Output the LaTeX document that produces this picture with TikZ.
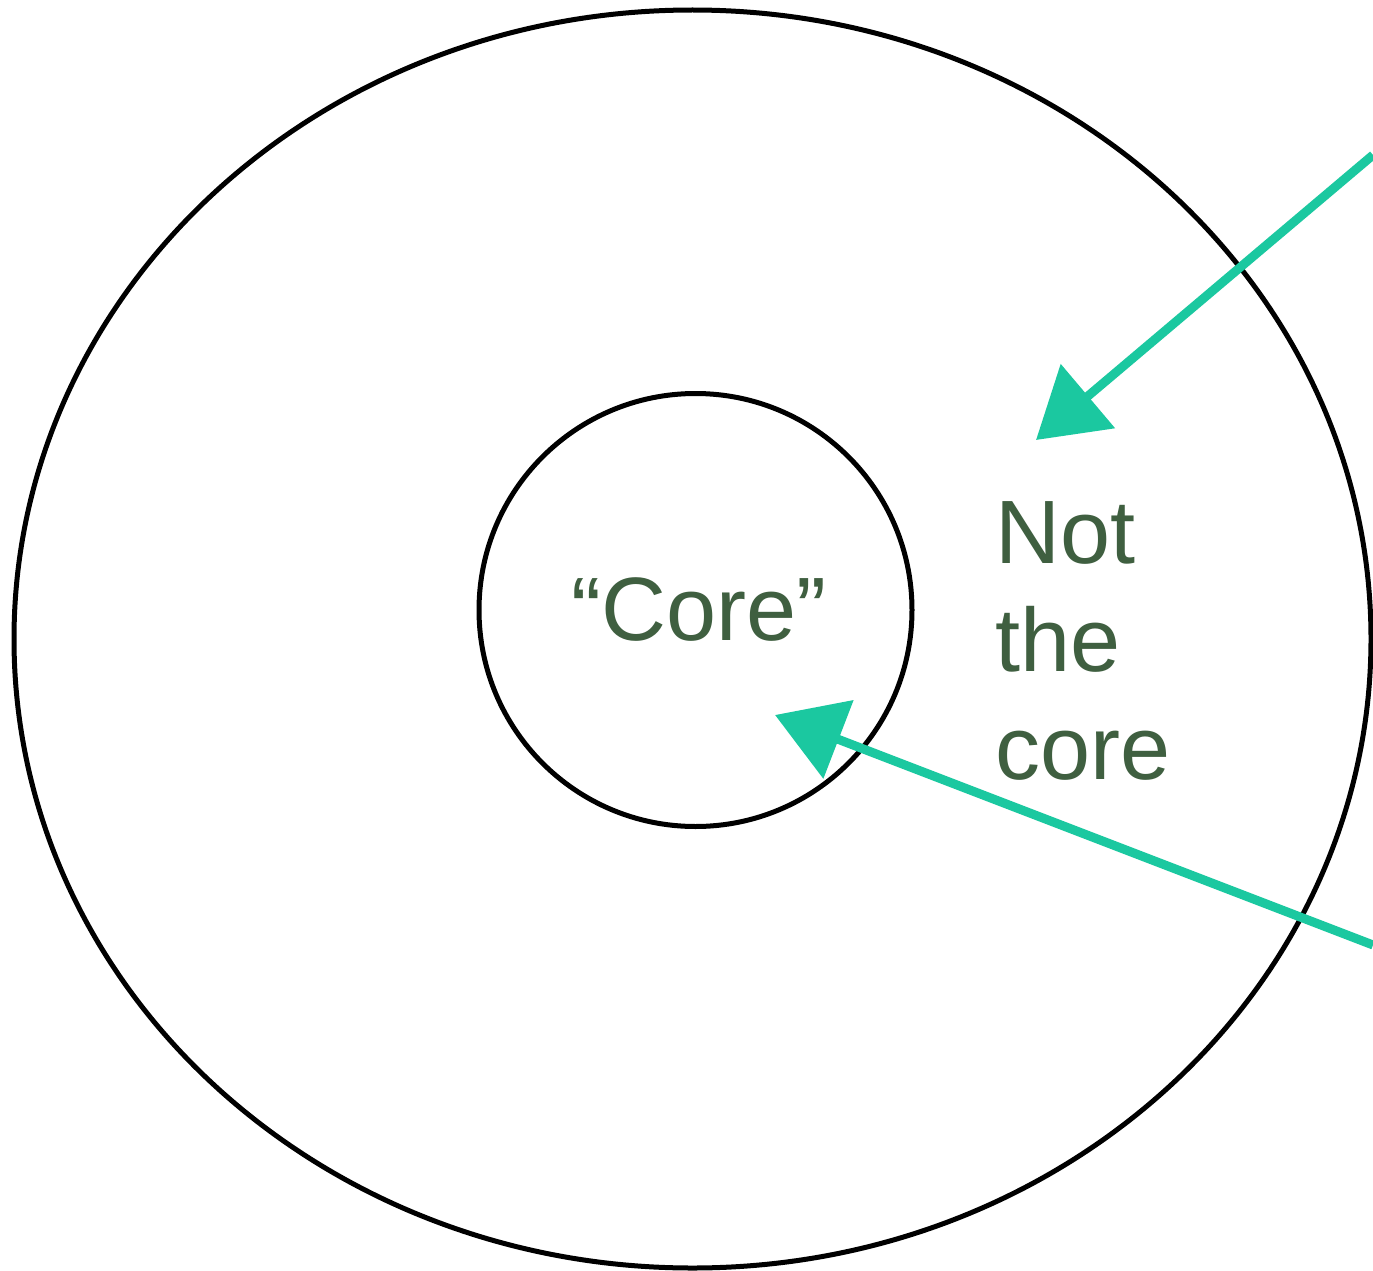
\documentclass[tikz,border=0pt]{standalone}
\usepackage{fontspec}
\setmainfont{Liberation Sans}
\usetikzlibrary{arrows.meta,shapes.geometric}
\definecolor{labelgreen}{HTML}{3F5F40}
\definecolor{arrowteal}{HTML}{1BC8A0}
\begin{document}
\begin{tikzpicture}[x=1pt,y=-1pt,
  ring/.style={draw=black,line width=5pt},
  label/.style={text=labelgreen,inner sep=0pt,font=\fontsize{90}{108}\selectfont},
  pointer/.style={draw=arrowteal,line width=9pt,-{Triangle[length=68pt,width=82pt]}}]
\useasboundingbox (0,0) rectangle (1373,1271);
\fill[white] (0,0) rectangle (1373,1271);
\node[ring,ellipse,minimum width=1357pt,minimum height=1258pt,inner sep=0pt] (outer) at (692.5,639) {};
\node[ring,circle,minimum size=433pt,inner sep=0pt] (inner) at (695.5,610) {};
\node[label] (core) at (699,610) {“Core”};
\node[label,anchor=north west,align=left] (notcore) at (995,501) {Not\\the\\core};
\coordinate (s1) at (1373,155);
\coordinate (t1) at (1036,440);
\coordinate (s2) at (1373,945);
\coordinate (t2) at (775,715);
\draw[pointer] (s1) -- (t1);
\draw[pointer] (s2) -- (t2);
\end{tikzpicture}
\end{document}
